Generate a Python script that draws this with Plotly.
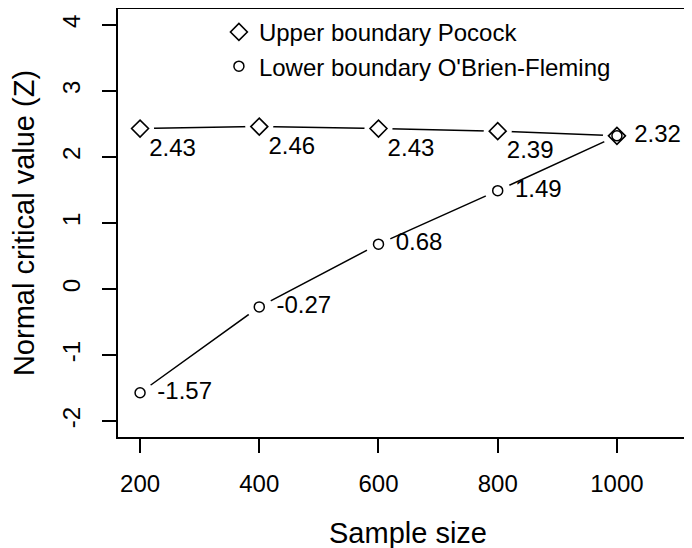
import plotly.graph_objects as go

# 데이터
sample_size = [200, 400, 600, 800, 1000]
upper_pocock = [2.43, 2.46, 2.43, 2.39, 2.32]
lower_obf = [-1.57, -0.27, 0.68, 1.49, 2.32]

x_ticks = [200, 400, 600, 800, 1000]
y_ticks = [-2, -1, 0, 1, 2, 3, 4]

FONT = "Liberation Sans, Arial, Helvetica, sans-serif"
FS = 24

# 위쪽 라벨은 마지막 점은 생략 (아래쪽 라벨과 겹침)
upper_text = ["%.2f" % v for v in upper_pocock[:-1]] + [""]
lower_text = ["%.2f" % v for v in lower_obf]

fig = go.Figure()

# 선
for ys in (upper_pocock, lower_obf):
    fig.add_trace(go.Scatter(x=sample_size, y=ys, mode="lines",
                             line=dict(color="black", width=1.5),
                             showlegend=False, hoverinfo="skip"))

# 점 주변 흰색 마스크 (R type="b" 처럼 선에 틈 만들기)
fig.add_trace(go.Scatter(x=sample_size, y=upper_pocock, mode="markers",
                         marker=dict(symbol="circle", size=28, color="white",
                                     line=dict(width=0)),
                         showlegend=False, hoverinfo="skip"))
fig.add_trace(go.Scatter(x=sample_size, y=lower_obf, mode="markers+text",
                         marker=dict(symbol="circle", size=26, color="white",
                                     line=dict(width=0)),
                         text=lower_text, textposition="middle right",
                         textfont=dict(family=FONT, size=FS, color="black"),
                         showlegend=False, hoverinfo="skip"))

# 실제 마커
fig.add_trace(go.Scatter(x=sample_size, y=upper_pocock, mode="markers+text",
                         marker=dict(symbol="diamond-open", size=13, color="black",
                                     line=dict(width=1.6)),
                         text=upper_text, textposition="bottom right",
                         textfont=dict(family=FONT, size=FS, color="black"),
                         showlegend=False))
fig.add_trace(go.Scatter(x=sample_size, y=lower_obf, mode="markers",
                         marker=dict(symbol="circle-open", size=10, color="black",
                                     line=dict(width=1.5)),
                         showlegend=False))

# 범례용
fig.add_trace(go.Scatter(x=[None], y=[None], mode="markers",
                         marker=dict(symbol="diamond-open", size=13, color="black",
                                     line=dict(width=1.6)),
                         name="Upper boundary Pocock"))
fig.add_trace(go.Scatter(x=[None], y=[None], mode="markers",
                         marker=dict(symbol="circle-open", size=10, color="black",
                                     line=dict(width=1.5)),
                         name="Lower boundary O'Brien-Fleming"))

fig.update_layout(
    width=692, height=548,
    margin=dict(l=110, r=2, t=1, b=119),
    plot_bgcolor="white", paper_bgcolor="white",
    font=dict(family=FONT, size=FS, color="black"),
    legend=dict(x=0.174, y=0.998, xanchor="left", yanchor="top",
                bgcolor="rgba(0,0,0,0)", borderwidth=0,
                font=dict(family=FONT, size=FS), tracegroupgap=0),
    xaxis=dict(range=[163, 1136], tickvals=x_ticks, showgrid=False, zeroline=False,
               showline=True, linecolor="black", linewidth=1.5, mirror=True,
               ticks="outside", ticklen=14, tickwidth=1.5, tickcolor="black",
               ticklabelstandoff=10, automargin=False,
               title=dict(text="Sample size", standoff=27)),
    yaxis=dict(range=[-2.24, 4.24], tickvals=y_ticks,
               ticktext=[str(v) for v in y_ticks],
               showgrid=False, zeroline=False,
               showline=True, linecolor="black", linewidth=1.5, mirror=True,
               ticks="outside", ticklen=14, tickwidth=1.5, tickcolor="black",
               tickangle=-90, ticklabelstandoff=13, automargin=False,
               title=dict(text="Normal critical value (Z)", standoff=20)),
)

fig.write_html("out.html")
